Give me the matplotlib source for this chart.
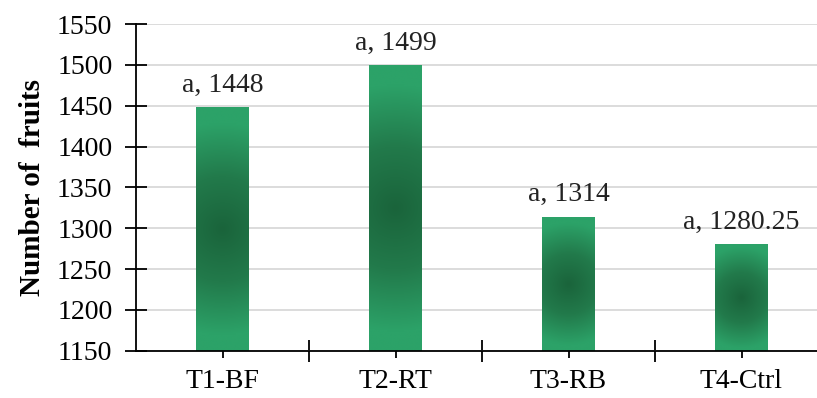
import numpy as np
import matplotlib
matplotlib.use("Agg")
import matplotlib.pyplot as plt
from matplotlib.colors import LinearSegmentedColormap

# dados
tratamentos = ["T1-BF", "T2-RT", "T3-RB", "T4-Ctrl"]
n_frutos = [1448, 1499, 1314, 1280.25]
letras = ["a", "a", "a", "a"]
rotulos = ["1448", "1499", "1314", "1280.25"]

plt.rcParams["font.family"] = ["Liberation Serif", "DejaVu Serif"]

LARG = 817
ALT = 398
fig = plt.figure(figsize=(LARG / 100, ALT / 100), dpi=100)
ax = fig.add_axes([136 / LARG, 47.3 / ALT, (828 - 136) / LARG, (374 - 47.3) / ALT])

y_min, y_max = 1150, 1550
ax.set_xlim(-0.5, 3.5)
ax.set_ylim(y_min, y_max)

# escala em pixels para o degradê radial
px_x = (828 - 136) / 4.0
px_y = (374 - 47.3) / (y_max - y_min)

cor_borda = "#2ca268"
cor_meio = "#1a643b"
cmap = LinearSegmentedColormap.from_list("verde", [cor_meio, "#227a4b", cor_borda])

largura = 0.305
for i, v in enumerate(n_frutos):
    x0, x1 = i - largura / 2, i + largura / 2
    w_px = largura * px_x
    h_px = (v - y_min) * px_y
    xs = np.linspace(-w_px / 2, w_px / 2, 60)
    ys = np.linspace(-h_px / 2, h_px / 2, 200)
    X, Y = np.meshgrid(xs, ys)
    r = np.sqrt(X ** 2 + Y ** 2) / np.sqrt((w_px / 2) ** 2 + (h_px / 2) ** 2)
    ax.imshow(r, cmap=cmap, vmin=0, vmax=0.85, extent=(x0, x1, y_min, v),
              aspect="auto", origin="lower", zorder=2, interpolation="bilinear")
    ax.annotate(f"{letras[i]}, {rotulos[i]}", xy=(i, v), xytext=(0, 7),
                textcoords="offset points", ha="center", va="bottom",
                fontsize=20, color="#222222")

ax.set_xlim(-0.5, 3.5)
ax.set_ylim(y_min, y_max)

# grade
ax.set_yticks(np.arange(1150, 1551, 50))
ax.yaxis.grid(True, color="#dcdcdc", linewidth=1.4, zorder=0)
ax.set_axisbelow(True)

# eixo x: marcas nas divisões e no centro
ax.set_xticks([0.5, 1.5, 2.5])
ax.set_xticklabels([])
ax.set_xticks([0, 1, 2, 3], minor=True)
ax.set_xticklabels(tratamentos, minor=True, fontsize=20)
ax.tick_params(axis="x", which="major", direction="inout", length=16, width=1.3, color="black")
ax.tick_params(axis="x", which="minor", direction="out", length=5, width=1.3, pad=8, color="black")
ax.tick_params(axis="y", direction="inout", length=16, width=1.3, labelsize=20, pad=9)

for s in ["top", "right"]:
    ax.spines[s].set_visible(False)
ax.spines["left"].set_linewidth(1.3)
ax.spines["bottom"].set_linewidth(1.3)

ax.set_ylabel("Number of  fruits", fontsize=21, fontweight="bold", labelpad=8)

fig.savefig("out.png", dpi=100)
